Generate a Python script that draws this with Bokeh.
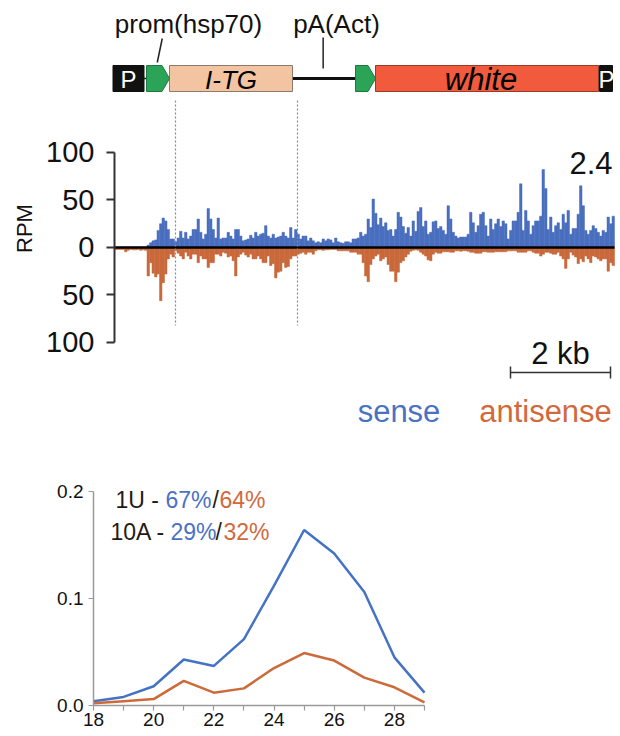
import numpy as np
from math import pi
from bokeh.plotting import figure
from bokeh.models import Range1d, FixedTicker, LinearAxis
from bokeh.layouts import column
from bokeh.core.properties import value
from bokeh.embed import file_html
from bokeh.resources import INLINE

FONT = "Liberation Sans"
BLUE = "#4a6fbf"
ORANGE = "#c9693b"
TBLUE = "#4a72c4"
TORANGE = "#d06a3c"
DARK = "#231a14"

# ---------------- data ----------------
bin_bp = 50  # coverage bin size (bp)
sense_rpm = [
    0.5, 0.5, 0.5, 0.5, 0.5, 0.5, 0.5, 0.5, 0.5, 0.5, 0.5, 0.5, 0.5, 2.5, 5, 7,
    8, 18, 25, 31, 28, 19, 9, 9, 6, 10, 17, 10, 16, 9, 12, 19,
    19, 30, 16, 9, 14, 41, 30, 19, 10, 31, 9, 10, 10, 16, 12, 9,
    19, 19, 12, 7, 8, 9, 13, 10, 16, 12, 14, 15, 23, 12, 10, 14,
    10, 11, 12, 16, 12, 10, 21, 10, 19, 14, 9, 12, 12, 7, 10, 7,
    5, 6, 5, 9, 7, 9, 8, 5, 10, 6, 5, 4.5, 6, 6, 5, 9,
    9, 10, 16, 12, 14, 30, 21, 51, 36, 24, 31, 22, 26, 18, 19, 12,
    19, 37, 32, 22, 15, 21, 12, 28, 17, 38, 42, 22, 28, 14, 16, 27,
    28, 20, 22, 18, 14, 44, 30, 16, 12, 10, 11, 11, 11, 14, 37, 26,
    16, 23, 35, 37, 23, 12, 30, 19, 25, 30, 22, 28, 25, 9, 18, 28,
    28, 37, 67, 18, 39, 28, 14, 23, 28, 28, 33, 82, 62, 19, 32, 16,
    23, 26, 19, 35, 26, 39, 14, 20, 20, 35, 65, 44, 18, 14, 18, 23,
    20, 16, 12, 18, 16, 32, 25, 33,
]
antisense_rpm = [
    2, 2, 2, 2, 4.5, 3, 2, 2.5, 2.5, 2, 3, 2.5, 3, 30, 16, 27,
    31, 28, 56, 37, 28, 12, 7, 10, 3.5, 6, 9, 12, 5, 9, 12, 7,
    7, 16, 9, 12, 12, 21, 16, 16, 7, 7, 9, 5, 6, 10, 9, 14,
    30, 10, 7, 5, 8, 10, 7, 12, 12, 9, 12, 16, 16, 9, 19, 17,
    32, 26, 25, 16, 21, 20, 12, 9, 9, 7, 6, 5, 7, 5, 5, 7,
    3.5, 2.5, 2.5, 3, 2.5, 2.5, 2, 2, 2, 3.5, 3.5, 3.5, 3.5, 3.5, 5, 5,
    5, 7, 7, 16, 30, 36, 18, 12, 9, 7, 14, 12, 10, 18, 25, 25,
    36, 26, 16, 14, 10, 7, 4, 3, 2.5, 3, 5, 7, 9, 13, 14, 7,
    5, 6, 6, 4.5, 4.5, 4.5, 5, 5, 3.5, 3.5, 4, 3.5, 3.5, 4, 5, 5,
    6, 6, 6, 4.5, 4.5, 5, 5, 5, 4.5, 4.5, 4.5, 4.5, 4.5, 3.5, 3.5, 3.5,
    3.5, 5, 5, 5, 5, 3.5, 3.5, 5, 6, 6, 9, 7, 5, 5, 6, 7,
    7, 5, 9, 12, 22, 12, 5, 8, 10, 17, 12, 15, 9, 12, 16, 9,
    10, 12, 14, 12, 12, 25, 16, 19,
]
rpm_ticks = [-100, -50, 0, 50, 100]

# construct features (bp)
box_names = ["P", "I-TG", "white", "P"]
box_start = [-30, 1100, 5220, 9700]
box_end = [590, 3560, 9680, 9960]
box_fill = ["#111111", "#f2c4a1", "#f25a3e", "#111111"]
box_line = ["#111111", "#8c7b6c", "#9a3a28", "#111111"]
box_text_color = ["white", "black", "black", "white"]
box_text_style = ["normal", "italic", "italic", "normal"]
box_text_size = ["24px", "26px", "31px", "24px"]
box_text_x = [280, 2330, 7330, 9840]
promoter_start = [640, 4820]
promoter_end = [1100, 5220]
pa_line = (3560, 4820)
feature_labels = ["prom(hsp70)", "pA(Act)"]
feature_label_x = [1480, 4440]
itg_bounds = [1220, 3660]
scale_bp = 2000
scale_end = 9920
track_value = "2.4"

# size distribution
lengths = [18, 19, 20, 21, 22, 23, 24, 25, 26, 27, 28, 29]
sense_frac = [0.004, 0.008, 0.018, 0.043, 0.037, 0.062, 0.112, 0.164, 0.142, 0.106, 0.045, 0.012]
anti_frac = [0.002, 0.004, 0.006, 0.023, 0.012, 0.016, 0.035, 0.049, 0.042, 0.026, 0.017, 0.003]
ann_text = ["1U - ", "67%", "/", "64%", "10A - ", "29%", "/", "32%"]
ann_color = [DARK, TBLUE, DARK, TORANGE, DARK, TBLUE, DARK, TORANGE]

# ---------------- figure A: construct + coverage ----------------
# frame spans the whole canvas; 1 px = 20 bp, bp 0 at x = 114 px
p = figure(width=620, height=440, x_range=Range1d(-2280, 10120), y_range=Range1d(-203.16, 260),
           x_axis_type=None, y_axis_type=None, output_backend="svg", toolbar_location=None,
           min_border=0)
p.extra_y_ranges = {"px": Range1d(440, 0)}
p.outline_line_color = None
p.grid.visible = False

ya = LinearAxis(fixed_location=0)
ya.ticker = FixedTicker(ticks=rpm_ticks)
ya.major_label_overrides = {t: str(abs(t)) for t in rpm_ticks}
ya.bounds = (-100, 100)
ya.axis_line_color = "#333333"
ya.axis_line_width = 2
ya.major_tick_line_color = "#333333"
ya.major_tick_line_width = 2
ya.major_tick_out = 8
ya.major_tick_in = 0
ya.minor_tick_line_color = None
ya.major_label_text_font = FONT
ya.major_label_text_font_size = "29px"
ya.major_label_text_color = "#111111"
ya.major_label_standoff = 12
p.add_layout(ya, "left")

centers = np.arange(len(sense_rpm)) * bin_bp + bin_bp / 2
p.vbar(x=centers, width=bin_bp, top=sense_rpm, bottom=0, fill_color=BLUE, line_color=BLUE, line_width=0.5)
p.vbar(x=centers, width=bin_bp, top=0, bottom=-np.array(antisense_rpm), fill_color=ORANGE,
       line_color=ORANGE, line_width=0.5)
p.segment(x0=[0], y0=[0], x1=[len(sense_rpm) * bin_bp], y1=[0], line_color="black", line_width=2.5)

p.text(x=[-1800], y=[228], text=["RPM"], y_range_name="px", angle=pi / 2, text_color="#111111",
       text_font=value(FONT), text_font_size="22px", text_align="center", text_baseline="middle")

# dashed I-TG boundaries
p.segment(x0=itg_bounds, x1=itg_bounds, y0=[100, 100], y1=[325, 325], y_range_name="px",
          line_color="#8a8a8a", line_width=1.2, line_dash="2 2")

# backbone lines
p.segment(x0=[box_end[0]], x1=[promoter_start[0]], y0=[78], y1=[78], y_range_name="px",
          line_color="#222222", line_width=1.5)
p.segment(x0=[pa_line[0]], x1=[pa_line[1]], y0=[78], y1=[78], y_range_name="px",
          line_color="#111111", line_width=3)
# boxes
p.quad(left=box_start, right=box_end, top=[65] * 4, bottom=[91] * 4, y_range_name="px",
       fill_color=box_fill, line_color=box_line, line_width=1)
# promoter arrows
axs = [[s, e - 150, e, e - 150, s] for s, e in zip(promoter_start, promoter_end)]
ays = [[65, 65, 78, 91, 91] for _ in promoter_start]
p.patches(xs=axs, ys=ays, y_range_name="px", fill_color="#2ca458", line_color="#1d7a3e", line_width=1)
for t, x, c, st, sz in zip(box_names, box_text_x, box_text_color, box_text_style, box_text_size):
    p.text(x=[x], y=[79], text=[t], y_range_name="px", text_color=c, text_font=value(FONT),
           text_font_style=st, text_font_size=sz, text_align="center", text_baseline="middle")
# leader lines and labels
p.segment(x0=[955, 4173], x1=[855, 4173], y0=[38, 37], y1=[62, 68], y_range_name="px",
          line_color="#222222", line_width=1.5)
p.text(x=feature_label_x, y=[23, 23], text=feature_labels, y_range_name="px", text_color="#111111",
       text_font=value(FONT), text_font_size="26px", text_align="center", text_baseline="middle")

# value label
p.text(x=[9960], y=[162], text=[track_value], y_range_name="px", text_color="#111111",
       text_font=value(FONT), text_font_size="31px", text_align="right", text_baseline="middle")
# scale bar
sb0 = scale_end - scale_bp
p.segment(x0=[sb0], x1=[scale_end], y0=[372], y1=[372], y_range_name="px", line_color="#333333", line_width=1.5)
p.segment(x0=[sb0, scale_end], x1=[sb0, scale_end], y0=[366, 366], y1=[378, 378], y_range_name="px",
          line_color="#333333", line_width=1.5)
p.text(x=[(sb0 + scale_end) / 2], y=[353], text=["2 kb"], y_range_name="px", text_color="#111111",
       text_font=value(FONT), text_font_size="31px", text_align="center", text_baseline="middle")
# legend texts
p.text(x=[5690, 8620], y=[411, 411], text=["sense", "antisense"], y_range_name="px",
       text_color=[TBLUE, TORANGE], text_font=value(FONT), text_font_size="31px",
       text_align="center", text_baseline="middle")

# ---------------- figure B: size distribution ----------------
# frame spans whole canvas; 18 nt at x = 93 px, 30.09 px per nt; 0.0 at 265 px from top, 1070 px per unit
q = figure(width=620, height=296, x_range=Range1d(14.909, 35.514), y_range=Range1d(-0.02897, 0.24766),
           x_axis_type=None, y_axis_type=None, output_backend="svg", toolbar_location=None,
           min_border=0)
q.outline_line_color = None
q.grid.visible = False

xa = LinearAxis(fixed_location=0)
xa.ticker = FixedTicker(ticks=lengths)
xa.major_label_overrides = {v: (str(v) if v % 2 == 0 else "") for v in lengths}
xa.bounds = (18, 29)
ya2 = LinearAxis(fixed_location=18)
ya2.ticker = FixedTicker(ticks=[0, 0.1, 0.2])
ya2.major_label_overrides = {0: "0.0", 0.1: "0.1", 0.2: "0.2"}
ya2.bounds = (0, 0.2)
for ax in (xa, ya2):
    ax.axis_line_color = "#9a9a9a"
    ax.axis_line_width = 1.5
    ax.major_tick_line_color = "#9a9a9a"
    ax.major_tick_line_width = 1.2
    ax.major_tick_out = 5
    ax.major_tick_in = 0
    ax.minor_tick_line_color = None
    ax.major_label_text_font = FONT
    ax.major_label_text_font_size = "19px"
    ax.major_label_text_color = "#111111"
xa.major_label_standoff = 2
ya2.major_label_standoff = 5
q.add_layout(xa, "below")
q.add_layout(ya2, "left")

q.line(lengths, sense_frac, line_color="#4472c4", line_width=2.5)
q.line(lengths, anti_frac, line_color="#cc6a3a", line_width=2.5)

ann_px = [115, 165, 212, 219, 110, 170, 215, 223]
ann_py = [500] * 4 + [532] * 4
ann_x = [18 + (v - 93) / 30.09 for v in ann_px]
ann_y = [(705 - v) / 1070 for v in ann_py]
q.text(x=ann_x, y=ann_y, text=ann_text, text_color=ann_color, text_font=value(FONT),
       text_font_size="23px", text_align="left", text_baseline="middle")

layout = column(p, q, spacing=0)
open("out.html", "w").write(file_html(layout, INLINE))
